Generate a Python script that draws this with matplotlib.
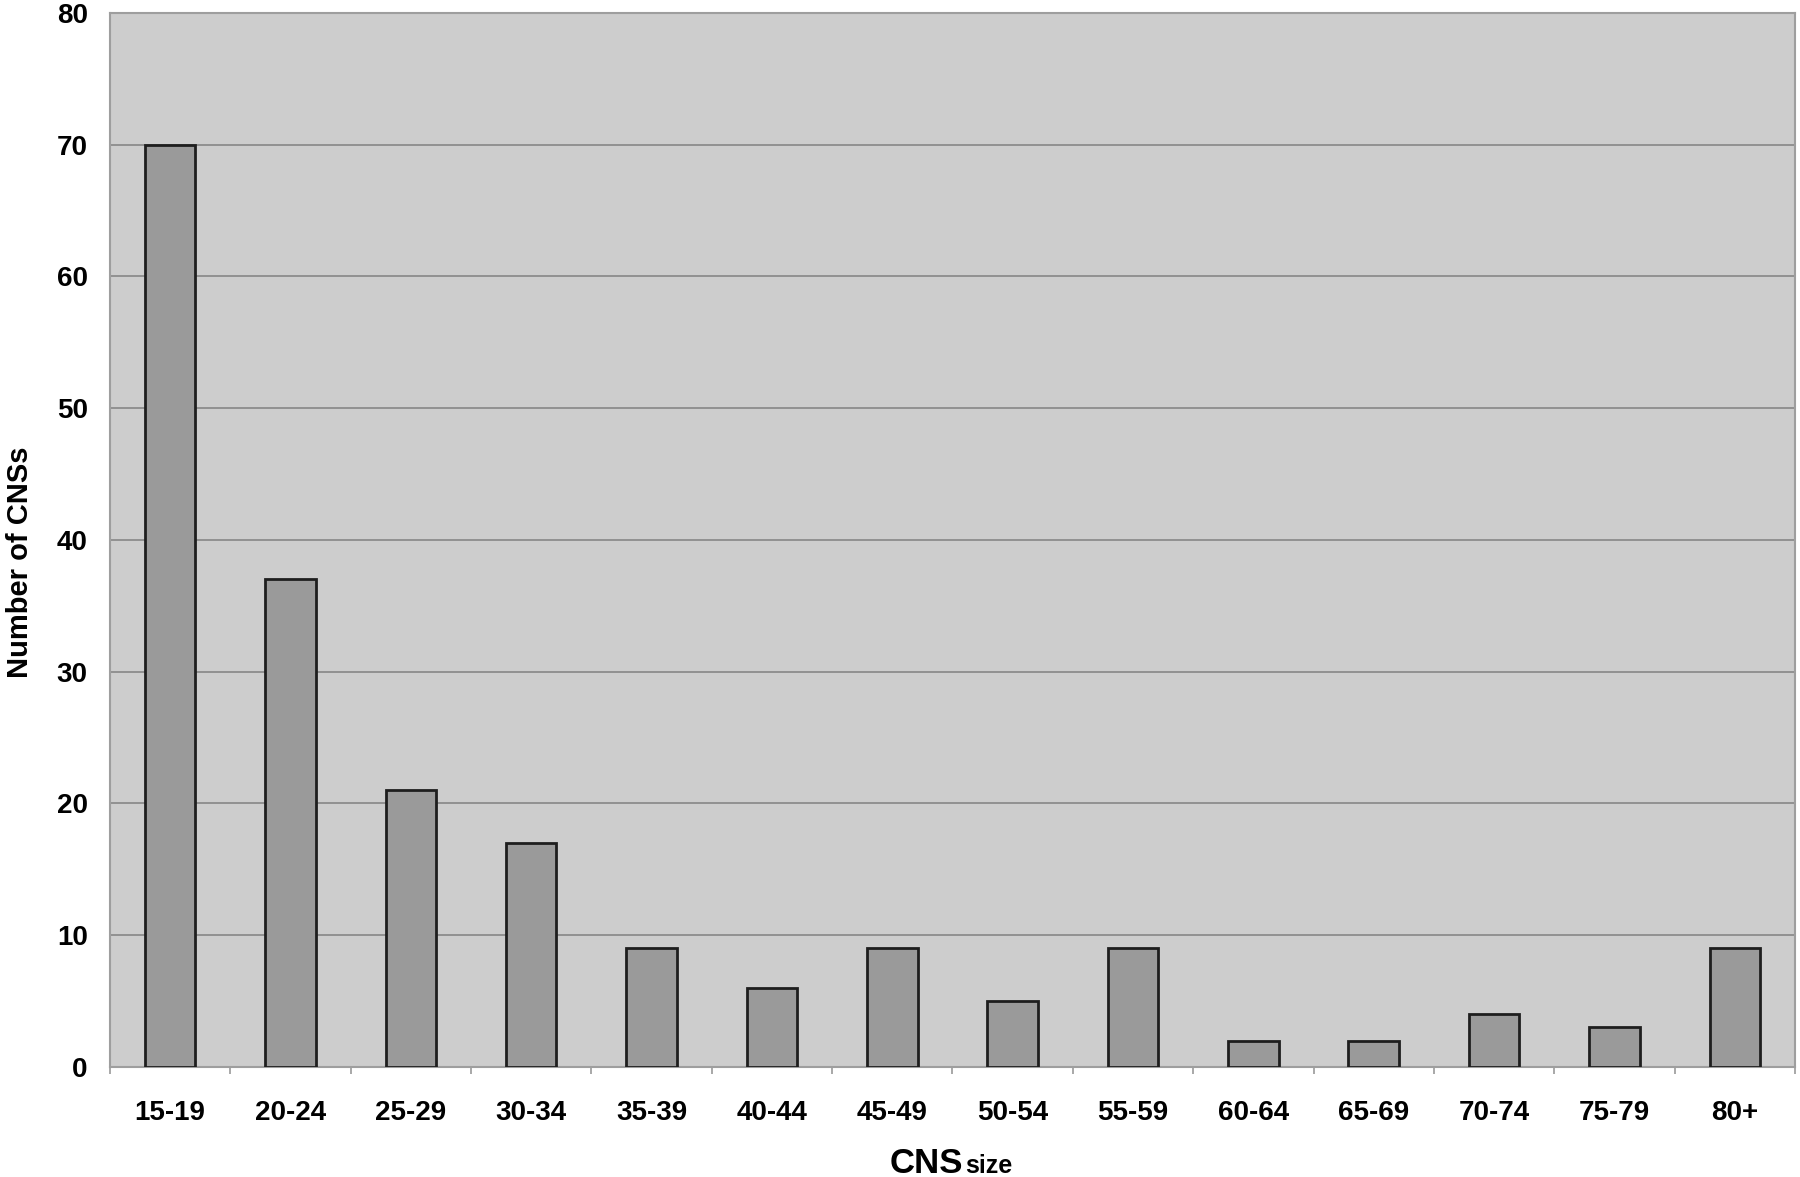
import numpy as np
import matplotlib.pyplot as plt

# CNS size bins and counts
size_bins = ['15-19', '20-24', '25-29', '30-34', '35-39', '40-44', '45-49',
             '50-54', '55-59', '60-64', '65-69', '70-74', '75-79', '80+']
cns_counts = [70, 37, 21, 17, 9, 6, 9, 5, 9, 2, 2, 4, 3, 9]
y_ticks = [0, 10, 20, 30, 40, 50, 60, 70, 80]

plt.rcParams['font.family'] = ['Liberation Sans', 'DejaVu Sans']

fig = plt.figure(figsize=(18, 11.77), dpi=100)
ax = fig.add_axes([0.0611, 0.0935, 0.9361, 0.8955])

x = np.arange(len(size_bins))
ax.set_facecolor('#cdcdcd')
ax.set_axisbelow(True)
ax.yaxis.grid(True, color='#8c8c8c', linewidth=1.3)
ax.bar(x, cns_counts, width=0.42, color='#9a9a9a', edgecolor='#1e1e1e', linewidth=2, zorder=3)

ax.set_xlim(-0.5, len(size_bins) - 0.5)
ax.set_ylim(0, 80)
ax.set_yticks(y_ticks)
ax.set_xticks(x)
ax.set_xticklabels(size_bins)
ax.set_xticks(np.arange(len(size_bins) + 1) - 0.5, minor=True)
ax.tick_params(axis='x', which='major', length=0, pad=24, labelsize=20)
ax.tick_params(axis='x', which='minor', length=5, color='#999999', width=1.2)
ax.tick_params(axis='y', length=0, pad=16, labelsize=20)
for lbl in ax.get_xticklabels() + ax.get_yticklabels():
    lbl.set_fontweight('bold')

for side in ['left', 'top', 'right', 'bottom']:
    ax.spines[side].set_color('#9e9e9e')
    ax.spines[side].set_linewidth(1.5)

# axis titles
fig.text(0.011, 0.522, 'Number of CNSs', fontsize=21, fontweight='bold',
         rotation=90, ha='center', va='center')
fig.text(0.4944, 0.0034, 'CNS', fontsize=25, fontweight='bold', ha='left', va='baseline')
fig.text(0.536, 0.0034, 'size', fontsize=18, fontweight='bold', ha='left', va='baseline')

fig.savefig('out.png', dpi=100)
